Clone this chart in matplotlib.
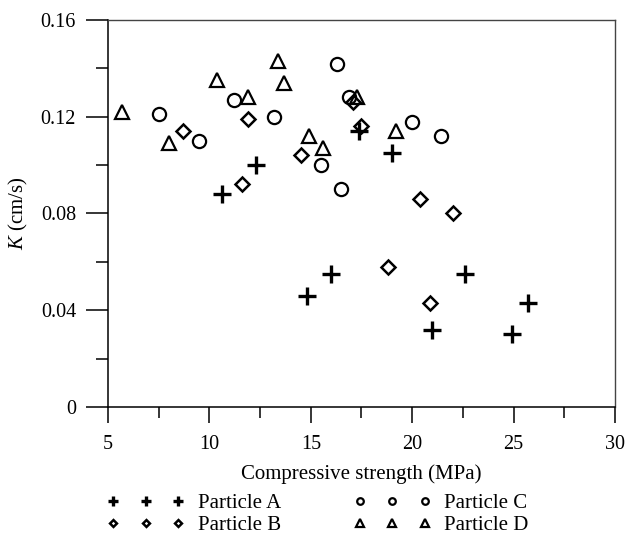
import matplotlib
matplotlib.use("Agg")
import matplotlib.pyplot as plt
from matplotlib.ticker import MultipleLocator, FuncFormatter

plt.rcParams["font.family"] = ["Liberation Serif", "DejaVu Serif"]
plt.rcParams["mathtext.fontset"] = "custom"
plt.rcParams["mathtext.it"] = "Liberation Serif:italic"
plt.rcParams["mathtext.rm"] = "Liberation Serif"

# Данные
a_strength = [10.6, 12.3, 14.8, 16.0, 17.4, 19.0, 21.0, 22.6, 24.9, 25.7]
a_k = [0.088, 0.100, 0.046, 0.055, 0.114, 0.105, 0.032, 0.055, 0.030, 0.043]

b_strength = [8.7, 11.6, 11.9, 14.5, 17.1, 17.5, 18.8, 20.4, 20.9, 22.0]
b_k = [0.114, 0.092, 0.119, 0.104, 0.126, 0.116, 0.058, 0.086, 0.043, 0.080]

c_strength = [7.5, 9.5, 11.2, 13.2, 15.5, 16.3, 16.5, 16.9, 20.0, 21.4]
c_k = [0.121, 0.110, 0.127, 0.120, 0.100, 0.142, 0.090, 0.128, 0.118, 0.112]

d_strength = [5.7, 8.0, 10.4, 11.9, 13.4, 13.7, 14.9, 15.6, 17.3, 19.2]
d_k = [0.122, 0.109, 0.135, 0.128, 0.143, 0.134, 0.112, 0.107, 0.128, 0.114]

labels = ["Particle A", "Particle B", "Particle C", "Particle D"]

fig = plt.figure(figsize=(6.27, 5.37), dpi=100)
ax = fig.add_axes([0.1722, 0.2421, 0.8087, 0.7207])

ax.plot(a_strength, a_k, linestyle="none", marker="+", ms=13, mew=2.4,
        color="black", label=labels[0])
ax.plot(b_strength, b_k, linestyle="none", marker="D", ms=7, mew=1.8,
        mfc="none", color="black", label=labels[1])
ax.plot(c_strength, c_k, linestyle="none", marker="o", ms=9.5, mew=1.6,
        mfc="none", color="black", label=labels[2])
ax.plot(d_strength, d_k, linestyle="none", marker="^", ms=10.5, mew=1.6,
        mfc="none", color="black", label=labels[3])

ax.set_xlim(5, 30)
ax.set_ylim(0, 0.16)
ax.xaxis.set_major_locator(MultipleLocator(5))
ax.xaxis.set_minor_locator(MultipleLocator(2.5))
ax.yaxis.set_major_locator(MultipleLocator(0.04))
ax.yaxis.set_minor_locator(MultipleLocator(0.02))
ax.yaxis.set_major_formatter(FuncFormatter(lambda v, p: "0" if v == 0 else f"{v:.2f}"))

ax.tick_params(axis="both", which="both", direction="out", width=1.1,
               labelsize=14.5, colors="black")
ax.tick_params(axis="y", which="major", length=16, pad=7)
ax.tick_params(axis="y", which="minor", length=8.5)
ax.tick_params(axis="x", which="major", length=11.5, pad=9)
ax.tick_params(axis="x", which="minor", length=8)

for side in ["left", "bottom"]:
    ax.spines[side].set_linewidth(1.1)
for side in ["top", "right"]:
    ax.spines[side].set_linewidth(1.0)
    ax.spines[side].set_color("#444444")

ax.set_xlabel("Compressive strength (MPa)", fontsize=15, labelpad=7)
ax.set_ylabel("$K$ (cm/s)", fontsize=15, labelpad=8)

handles, lbls = ax.get_legend_handles_labels()
fig.legend(handles, lbls,
           loc="upper left", bbox_to_anchor=(0.154, 0.1), ncol=2,
           frameon=False, numpoints=3, markerscale=0.5, fontsize=15,
           handlelength=3.7, handletextpad=0.65, columnspacing=3.5,
           labelspacing=0.1, borderpad=0)

fig.savefig("out.png", dpi=100)
